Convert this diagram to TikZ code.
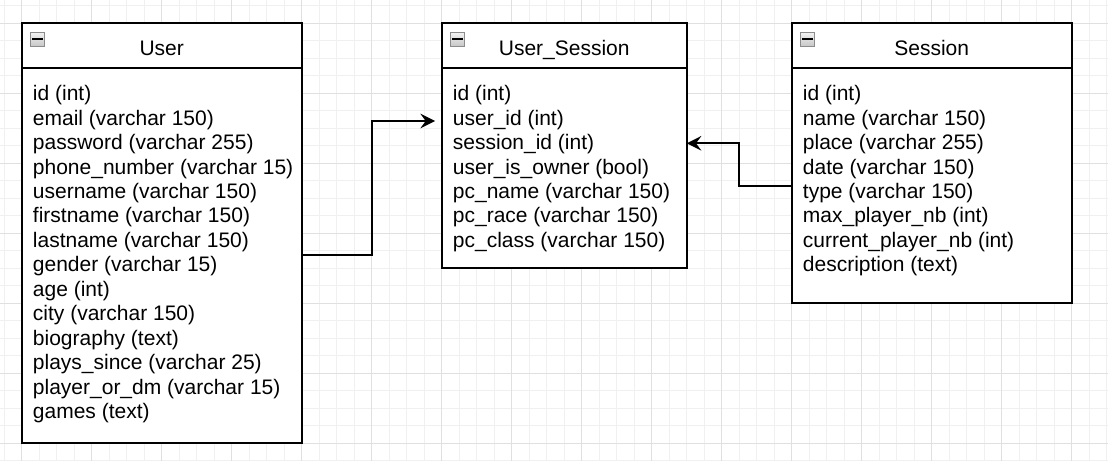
\documentclass[tikz,border=0pt]{standalone}
\usepackage{fontspec}
\setmainfont{Liberation Sans}
\usetikzlibrary{calc,arrows.meta}
\definecolor{minorg}{HTML}{F0F0F0}
\definecolor{majorg}{HTML}{E0E0E0}
\definecolor{iconborder}{HTML}{8C8C8C}
\tikzset{
  tbl/.style={draw=black, fill=white, line width=1.3pt, inner sep=0pt, outer sep=0pt, anchor=north west},
  hdrline/.style={line width=1.3pt},
  ttl/.style={font=\fontsize{15.75pt}{18pt}\selectfont, anchor=base, inner sep=0pt},
  rowtext/.style={font=\fontsize{15.75pt}{18pt}\selectfont, anchor=base west, inner sep=0pt},
  collapse/.style={draw=iconborder, line width=0.75pt, top color=white!95!black, bottom color=white!78!black,
    minimum size=10.5pt, inner sep=0pt,
    path picture={\fill[black] ($(path picture bounding box.center)+(-5.5,-0.9)$) rectangle ($(path picture bounding box.center)+(5.5,1.2)$);}},
  conn/.style={line width=1.3pt, -{Stealth[length=11pt,width=11pt,inset=4pt]}},
  minorgrid/.style={draw=minorg, line width=0.75pt},
  majorgrid/.style={draw=majorg, line width=0.75pt}
}
\begin{document}
\begin{tikzpicture}[x=0.75pt,y=-0.75pt]
\useasboundingbox (0,0) rectangle (1108,461);
\fill[white] (0,0) rectangle (1108,461);
% grid
\foreach \k in {0,...,63} \draw[minorgrid] ({4.2+17.5*\k},0) -- ({4.2+17.5*\k},461);
\foreach \k in {0,...,26} \draw[minorgrid] (0,{5.8+17.5*\k}) -- (1108,{5.8+17.5*\k});
\foreach \k in {0,...,15} \draw[majorgrid] ({21.7+70*\k},0) -- ({21.7+70*\k},461);
\foreach \k in {0,...,6} \draw[majorgrid] (0,{23.3+70*\k}) -- (1108,{23.3+70*\k});

% User table
\node[tbl, minimum width=210pt, minimum height=315pt] (user) at (21.7,23.3) {};
\draw[hdrline] ($(user.north west)+(0,45)$) -- ($(user.north east)+(0,45)$);
\node[collapse] (user-c) at ($(user.north west)+(16.1,15.9)$) {};
\node[ttl] (user-t) at ($(user.north)+(0,31.7)$) {User};
\foreach \t [count=\i] in {id (int), email (varchar 150), password (varchar 255), phone\_number (varchar 15), username (varchar 150), firstname (varchar 150), lastname (varchar 150), gender (varchar 15), age (int), city (varchar 150), biography (text), plays\_since (varchar 25), player\_or\_dm (varchar 15), games (text)}
  \node[rowtext] (user-r\i) at ($(user.north west)+(11,{77.4+24.45*(\i-1)})$) {\t};

% User_Session table
\node[tbl, minimum width=183.75pt, minimum height=183.75pt] (usess) at (441.7,23.3) {};
\draw[hdrline] ($(usess.north west)+(0,45)$) -- ($(usess.north east)+(0,45)$);
\node[collapse] (usess-c) at ($(usess.north west)+(16.1,15.9)$) {};
\node[ttl] (usess-t) at ($(usess.north)+(0,31.7)$) {User\_Session};
\foreach \t [count=\i] in {id (int), user\_id (int), session\_id (int), user\_is\_owner (bool), pc\_name (varchar 150), pc\_race (varchar 150), pc\_class (varchar 150)}
  \node[rowtext] (usess-r\i) at ($(usess.north west)+(11,{77.4+24.45*(\i-1)})$) {\t};

% Session table
\node[tbl, minimum width=210pt, minimum height=210pt] (sess) at (791.7,23.3) {};
\draw[hdrline] ($(sess.north west)+(0,45)$) -- ($(sess.north east)+(0,45)$);
\node[collapse] (sess-c) at ($(sess.north west)+(16.1,15.9)$) {};
\node[ttl] (sess-t) at ($(sess.north)+(0,31.7)$) {Session};
\foreach \t [count=\i] in {id (int), name (varchar 150), place (varchar 255), date (varchar 150), type (varchar 150), max\_player\_nb (int), current\_player\_nb (int), description (text)}
  \node[rowtext] (sess-r\i) at ($(sess.north west)+(11,{77.4+24.45*(\i-1)})$) {\t};

% connectors
\coordinate (u-out) at ($(user.north east)+(0,231.7)$);
\coordinate (us-in) at ($(usess.north west)+(0,97.7)$);
\draw[conn, shorten >=5pt] (u-out) -| ($(u-out)!0.5!(us-in)$) |- (us-in);

\coordinate (s-out) at ($(sess.north west)+(0,162.4)$);
\coordinate (us-in2) at ($(usess.north east)+(0,120)$);
\draw[conn] (s-out) -| ($(s-out)!0.5!(us-in2)$) |- (us-in2);
\end{tikzpicture}
\end{document}
